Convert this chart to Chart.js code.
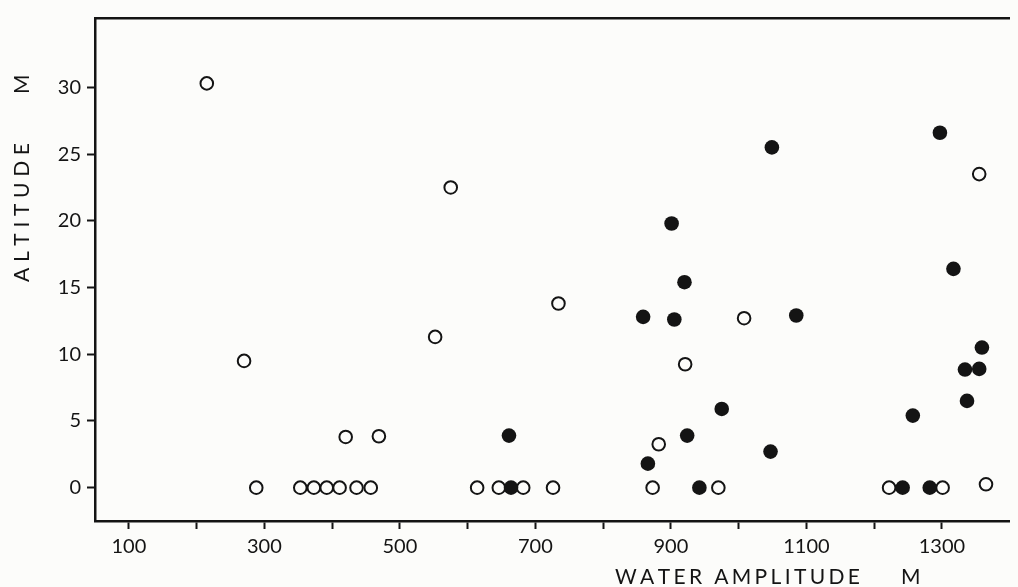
<!DOCTYPE html>
<html>
<head>
<meta charset="utf-8">
<script src="https://cdn.jsdelivr.net/npm/chart.js@4"></script>
<style>
  html, body { margin:0; padding:0; background:#fcfcfa; }
  canvas { display:block; }
</style>
</head>
<body>
<canvas id="chart" width="1018" height="587"></canvas>
<script>
/* Dados */
const openX   = [215, 270, 288, 353, 373, 392, 411, 436, 457, 420, 469, 552, 575, 614, 646, 682, 726, 734, 873, 882, 921, 970, 1008, 1222, 1301, 1355, 1365];
const openY   = [30.3, 9.5, 0, 0, 0, 0, 0, 0, 0, 3.8, 3.85, 11.3, 22.5, 0, 0, 0, 0, 13.8, 0, 3.25, 9.25, 0, 12.7, 0, 0, 23.5, 0.25];
const filledX = [661, 664, 859, 866, 901, 905, 920, 924, 942, 975, 1047, 1049, 1085, 1242, 1257, 1282, 1297, 1317, 1334, 1337, 1355, 1359];
const filledY = [3.9, 0, 12.8, 1.8, 19.8, 12.6, 15.4, 3.9, 0, 5.9, 2.7, 25.5, 12.9, 0, 5.4, 0, 26.6, 16.4, 8.85, 6.5, 8.9, 10.5];

const xTicks  = [100, 200, 300, 400, 500, 600, 700, 800, 900, 1000, 1100, 1200, 1300];
const xLabels = [100, 300, 500, 700, 900, 1100, 1300];
const yTicks  = [0, 5, 10, 15, 20, 25, 30];

const xTitle = ["WATER AMPLITUDE", "M"];
const yTitle = ["ALTITUDE", "M"];

const INK = '#141414';
const FONT = 'Lato, "Open Sans", sans-serif';

const pts = (xs, ys) => xs.map((x, i) => ({x, y: ys[i]}));

/* texto com espaçamento entre letras */
function spaced(ctx, txt, x, y, width){
  const chars = [...txt];
  const w = chars.reduce((a, c) => a + ctx.measureText(c).width, 0);
  const gap = chars.length > 1 ? (width - w) / (chars.length - 1) : 0;
  let cx = x;
  chars.forEach(c => { ctx.fillText(c, cx, y); cx += ctx.measureText(c).width + gap; });
}

const axisTitles = {
  id: 'axisTitles',
  afterDraw(chart){
    const ctx = chart.ctx;
    ctx.save();
    ctx.fillStyle = INK;
    ctx.font = '400 21px ' + FONT;
    ctx.textBaseline = 'alphabetic';
    ctx.textAlign = 'left';
    spaced(ctx, xTitle[0], 615, 584, 245);
    spaced(ctx, xTitle[1], 901, 584, ctx.measureText(xTitle[1]).width);
    ctx.translate(29, 282);
    ctx.rotate(-Math.PI / 2);
    spaced(ctx, yTitle[0], 0, 0, 139);
    spaced(ctx, yTitle[1], 188, 0, ctx.measureText(yTitle[1]).width);
    ctx.restore();
  }
};

new Chart(document.getElementById('chart'), {
  type: 'scatter',
  data: {
    datasets: [
      {
        label: 'open',
        data: pts(openX, openY),
        pointStyle: 'circle',
        pointRadius: 6.3,
        pointBorderWidth: 2,
        pointBorderColor: INK,
        pointBackgroundColor: '#fcfcfa',
        order: 2
      },
      {
        label: 'filled',
        data: pts(filledX, filledY),
        pointStyle: 'circle',
        pointRadius: 7.3,
        pointBorderWidth: 0,
        pointBackgroundColor: INK,
        order: 1
      }
    ]
  },
  options: {
    responsive: false,
    animation: false,
    layout: { padding: { left: 0, right: 2, top: 0, bottom: 0 } },
    plugins: { legend: { display: false }, tooltip: { enabled: false } },
    scales: {
      x: {
        type: 'linear',
        position: 'bottom',
        min: 50, max: 1400,
        afterBuildTicks: s => { s.ticks = xTicks.map(v => ({value: v})); },
        afterFit: s => { s.height = 66; },
        ticks: {
          color: INK,
          font: { family: FONT, size: 20, weight: '400' },
          padding: 6,
          maxRotation: 0,
          autoSkip: false,
          callback: v => xLabels.includes(v) ? String(v) : ''
        },
        grid: { display: true, drawOnChartArea: false, drawTicks: true, tickLength: 8, tickColor: INK, tickWidth: 2 },
        border: { display: true, color: INK, width: 2.5 }
      },
      xTop: {
        type: 'linear',
        position: 'top',
        display: true,
        min: 50, max: 1400,
        afterFit: s => { s.height = 15; },
        ticks: { display: false },
        grid: { display: false, drawTicks: false },
        border: { display: true, color: INK, width: 2.5 }
      },
      y: {
        type: 'linear',
        position: 'left',
        min: -2.5, max: 35.2,
        afterBuildTicks: s => { s.ticks = yTicks.map(v => ({value: v})); },
        afterFit: s => { s.width = 95; },
        ticks: {
          color: INK,
          font: { family: FONT, size: 20, weight: '400' },
          padding: 6,
          autoSkip: false,
          callback: v => String(v)
        },
        grid: { display: true, drawOnChartArea: false, drawTicks: true, tickLength: 8, tickColor: INK, tickWidth: 2 },
        border: { display: true, color: INK, width: 2.5 }
      }
    }
  },
  plugins: [axisTitles]
});
</script>
</body>
</html>
